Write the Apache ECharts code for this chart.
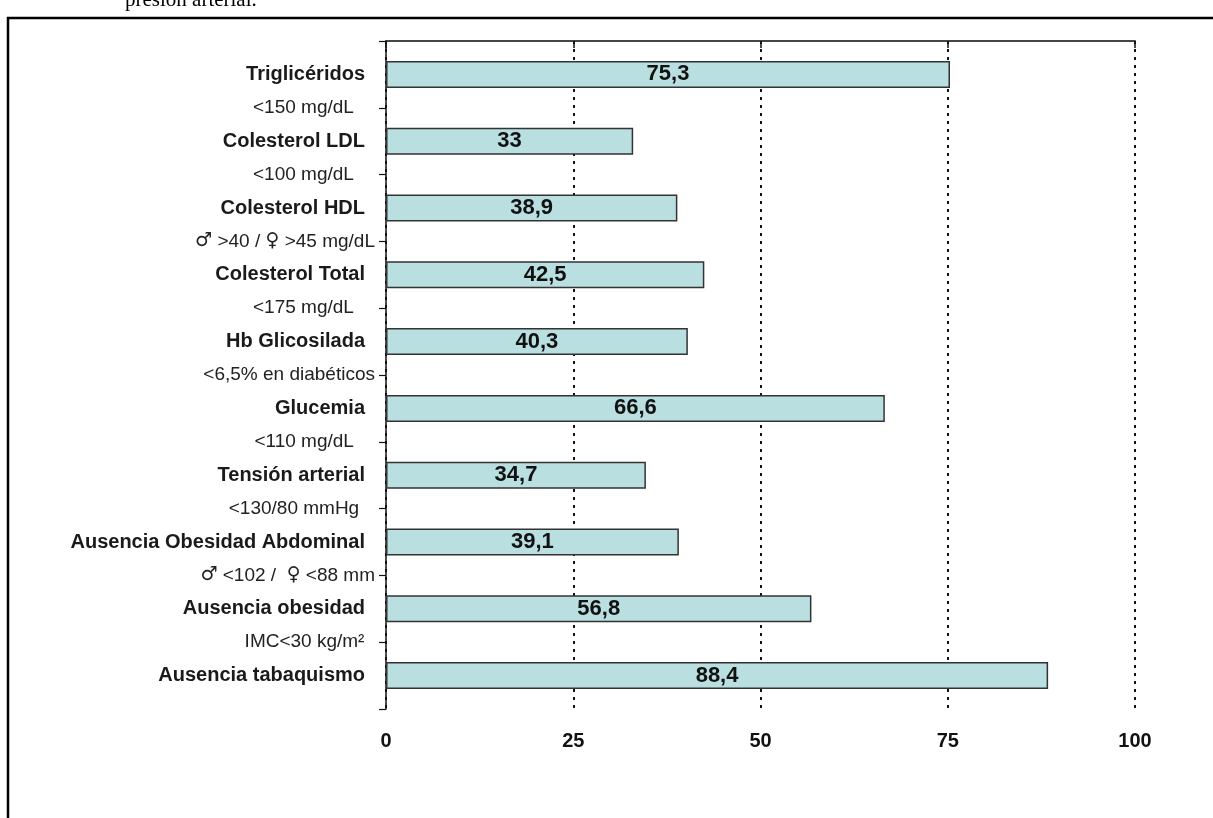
<!DOCTYPE html>
<html>
<head>
<meta charset="utf-8">
<script src="https://cdn.jsdelivr.net/npm/echarts@6/dist/echarts.min.js"></script>
<style>
  html, body { margin: 0; padding: 0; background: #fff; }
  #chart { width: 1213px; height: 818px; }
</style>
</head>
<body>
<div id="chart"></div>
<script>
// Factores de riesgo cardiovascular controlados (%)
const categories = [
  'Triglicéridos',
  'Colesterol LDL',
  'Colesterol HDL',
  'Colesterol Total',
  'Hb Glicosilada',
  'Glucemia',
  'Tensión arterial',
  'Ausencia Obesidad Abdominal',
  'Ausencia obesidad',
  'Ausencia tabaquismo'
];

const values = [75.3, 33, 38.9, 42.5, 40.3, 66.6, 34.7, 39.1, 56.8, 88.4];

// Objetivos de control, escritos entre cada par de barras
// ({m|..} / {f|..} marcan los símbolos de sexo)
const thresholds = [
  '<150 mg/dL    ',
  '<100 mg/dL    ',
  '{m|\u2642} >40 / {f|\u2640} >45 mg/dL',
  '<175 mg/dL    ',
  '<6,5% en diabéticos',
  '<110 mg/dL    ',
  '<130/80 mmHg   ',
  '{m|\u2642} <102 /  {f|\u2640} <88 mm',
  'IMC<30 kg/m\u00B2  '
];

const xTicks = [0, 25, 50, 75, 100];

const chart = echarts.init(document.getElementById('chart'));

const sans = '"Liberation Sans", Arial, "DejaVu Sans", sans-serif';
const symbolStyle = { fontFamily: '"DejaVu Sans", sans-serif', fontSize: 19, color: '#222' };

chart.setOption({
  animation: false,
  backgroundColor: '#ffffff',
  grid: { left: 386, right: 78, top: 41, bottom: 109, containLabel: false },
  xAxis: [
    {
      type: 'value',
      position: 'bottom',
      min: xTicks[0],
      max: xTicks[xTicks.length - 1],
      interval: 25,
      axisLine: { show: true, lineStyle: { color: '#111', width: 1.5 } },
      axisTick: { show: true, length: 7, lineStyle: { color: '#111', width: 1.5 } },
      axisLabel: {
        margin: 22,
        fontFamily: sans,
        fontWeight: 'bold',
        fontSize: 20,
        color: '#111'
      },
      splitLine: {
        show: true,
        lineStyle: { color: '#111', width: 2, type: [3, 5] }
      }
    },
    {
      // borde superior del área de trazado
      type: 'value',
      position: 'top',
      min: 0,
      max: 100,
      axisLine: { show: true, lineStyle: { color: '#444', width: 1.5 } },
      axisTick: { show: false },
      axisLabel: { show: false },
      splitLine: { show: false }
    }
  ],
  yAxis: [
    {
      type: 'category',
      inverse: true,
      data: categories,
      position: 'left',
      axisLine: { show: true, lineStyle: { color: '#111', width: 1.5 } },
      axisTick: { show: true, length: 7, lineStyle: { color: '#111', width: 1.2 } },
      axisLabel: {
        margin: 21,
        fontFamily: sans,
        fontWeight: 'bold',
        fontSize: 20,
        color: '#1a1a1a'
      }
    },
    {
      // etiquetas de objetivos en los límites entre categorías
      type: 'value',
      inverse: true,
      min: 0,
      max: categories.length,
      interval: 1,
      position: 'left',
      axisLine: { show: false },
      axisTick: { show: false },
      splitLine: { show: false },
      axisLabel: {
        margin: 11,
        fontFamily: sans,
        fontSize: 19,
        color: '#222',
        rich: { m: symbolStyle, f: symbolStyle },
        formatter: function (v) {
          return (v >= 1 && v <= thresholds.length) ? thresholds[v - 1] : '';
        }
      }
    }
  ],
  series: [
    {
      type: 'bar',
      xAxisIndex: 0,
      yAxisIndex: 0,
      data: values,
      barWidth: 27,
      itemStyle: { color: '#b9dfe1', borderColor: '#333', borderWidth: 1.5 },
      label: {
        show: true,
        position: 'inside',
        fontFamily: sans,
        fontWeight: 'bold',
        fontSize: 22,
        color: '#111',
        formatter: function (p) {
          return String(p.value).replace('.', ',');
        }
      }
    }
  ],
  graphic: [
    {
      type: 'text',
      left: 125,
      top: -10,
      style: {
        text: 'presión arterial.',
        font: '21px "Liberation Serif", "Times New Roman", serif',
        fill: '#000'
      }
    },
    {
      type: 'polyline',
      shape: { points: [[8, 818], [8, 18], [1213, 18]] },
      style: { stroke: '#000', lineWidth: 2.5, fill: null }
    }
  ]
});
</script>
</body>
</html>
